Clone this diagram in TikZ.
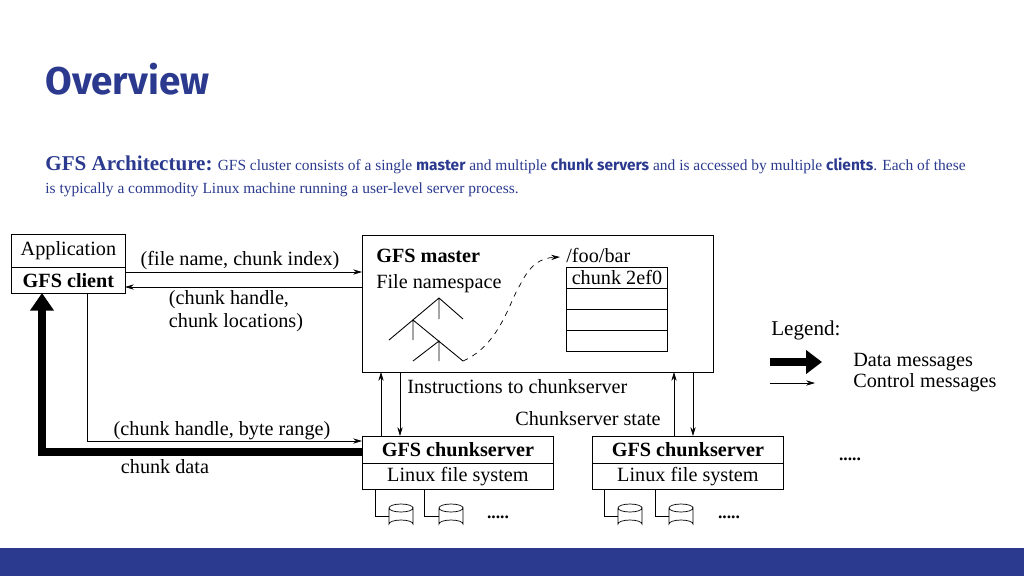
\documentclass[tikz,border=0pt]{standalone}
\usepackage{fontspec}
\setmainfont{Liberation Serif}
\newfontfamily\hdfont{Fira Sans}
\usetikzlibrary{arrows.meta}
\definecolor{navy}{HTML}{2B3A8E}
\begin{document}
\begin{tikzpicture}[x=0.02cm,y=-0.02cm,
  box/.style={draw,line width=0.5pt},
  lbl/.style={font=\fontsize{11.5}{13}\selectfont,inner sep=0pt},
  blbl/.style={font=\fontsize{11.5}{13}\selectfont\bfseries,inner sep=0pt},
  ctl/.style={-{Stealth[length=5pt,width=3pt]},line width=0.4pt},
  data/.style={-{Triangle[length=9pt,width=13pt]},line width=5pt},
  disk/.pic={\draw[line width=0.4pt,fill=white] (-12,-8) -- (-12,8) arc[start angle=180,end angle=360,x radius=12,y radius=4] -- (12,-8) arc[start angle=0,end angle=-180,x radius=12,y radius=-4] arc[start angle=180,end angle=0,x radius=12,y radius=-4];}]
\useasboundingbox (0,0) rectangle (1024,576);
\fill[navy] (0,548) rectangle (1024,576);
\node[anchor=base west,inner sep=0pt,text=navy,font=\hdfont\bfseries\fontsize{22}{26}\selectfont] (title) at (45,94) {Overview};
\node[anchor=base west,inner sep=0pt,text=navy,font=\fontsize{8.8}{10}\selectfont] (sub1) at (45,170) {{\fontsize{12}{13}\selectfont\bfseries GFS Architecture:} GFS cluster consists of a single {\hdfont\bfseries master} and multiple {\hdfont\bfseries chunk servers} and is accessed by multiple {\hdfont\bfseries clients}. Each of these};
\node[anchor=base west,inner sep=0pt,text=navy,font=\fontsize{8.8}{10}\selectfont] (sub2) at (45,193) {is typically a commodity Linux machine running a user-level server process.};
% client
\node[box,minimum width=2.28cm,minimum height=0.66cm,anchor=north west,lbl] (app) at (11,234) {Application};
\node[box,minimum width=2.28cm,minimum height=0.52cm,anchor=north west,blbl] (cli) at (11,267) {GFS client};
% master
\node[box,minimum width=7.02cm,minimum height=2.74cm,anchor=north west] (mas) at (362,235) {};
\node[blbl,anchor=base west] (mt) at (376,262) {GFS master};
\node[lbl,anchor=base west] (ns) at (376,288) {File namespace};
\node[lbl,anchor=base west] (foo) at (566,262) {/foo/bar};
\node[box,minimum width=2.02cm,minimum height=0.42cm,anchor=north west] (t1) at (566,267) {};
\node[lbl] (t1l) at (t1) {chunk 2ef0};
\node[box,minimum width=2.02cm,minimum height=0.42cm,anchor=north west] (t2) at (566,288) {};
\node[box,minimum width=2.02cm,minimum height=0.42cm,anchor=north west] (t3) at (566,309) {};
\node[box,minimum width=2.02cm,minimum height=0.42cm,anchor=north west] (t4) at (566,330) {};
\draw[line width=0.5pt] (389,340) -- (439,298) -- (463,319) (439,298) -- (439,319)
  (413,320) -- (463,361) (413,320) -- (413,340)
  (413,361) -- (439,341) -- (439,361);
\coordinate (tr) at (463,361);
\coordinate (fe) at (560,257);
\draw[dashed,line width=0.4pt,-{Stealth[length=5pt,width=3pt]}] (tr) .. controls (500,345) and (510,300) .. (520,285) .. controls (530,265) and (540,258) .. (fe);
% chunkservers
\node[box,minimum width=3.82cm,minimum height=0.54cm,anchor=north west,blbl] (cs1) at (362,436) {GFS chunkserver};
\node[box,minimum width=3.82cm,minimum height=0.52cm,anchor=north west,lbl] (fs1) at (362,463) {Linux file system};
\node[box,minimum width=3.82cm,minimum height=0.54cm,anchor=north west,blbl] (cs2) at (592,436) {GFS chunkserver};
\node[box,minimum width=3.82cm,minimum height=0.52cm,anchor=north west,lbl] (fs2) at (592,463) {Linux file system};
% disks
\coordinate (d1) at (401,516);
\coordinate (d2) at (451,516);
\coordinate (d3) at (630,516);
\coordinate (d4) at (681,516);
\draw[line width=0.4pt] (375,489) |- (d1) (424,489) |- (d2) (604,489) |- (d3) (655,489) |- (d4);
\pic at (d1) {disk}; \pic at (d2) {disk}; \pic at (d3) {disk}; \pic at (d4) {disk};
\node[lbl,font=\bfseries] (dots1) at (498,517) {.....};
\node[lbl,font=\bfseries] (dots2) at (729,517) {.....};
\node[lbl,font=\bfseries] (dots3) at (850,459) {.....};
% control arrows
\draw[ctl] (125,272) -- (362,272);
\node[lbl] (l1) at (240,261) {(file name, chunk index)};
\draw[ctl] (362,287) -- (125,287);
\node[lbl,align=left] (l2) at (236,311) {(chunk handle,\\ chunk locations)};
\draw[ctl] (381,436) -- (381,372);
\draw[ctl] (400,372) -- (400,436);
\node[lbl,anchor=base west] (l3) at (407,393) {Instructions to chunkserver};
\draw[ctl] (674,436) -- (674,372);
\draw[ctl] (693,372) -- (693,436);
\node[lbl,anchor=base east] (l4) at (661,425) {Chunkserver state};
\draw[ctl] (87,293) |- (362,441);
\node[lbl] (l5) at (222,431) {(chunk handle, byte range)};
\draw[data,-{Triangle[length=10pt,width=13pt]}] (362,452) -| (42,293);
\node[lbl] (l6) at (165,467) {chunk data};
% legend
\node[lbl,anchor=base west,font=\fontsize{12}{13}\selectfont] (leg) at (771,335) {Legend:};
\coordinate (la) at (770,362);
\coordinate (lb) at (822,362);
\draw[data] (la) -- (lb);
\coordinate (lc) at (770,383);
\coordinate (ld) at (815,383);
\draw[ctl] (lc) -- (ld);
\node[lbl,anchor=west] (dm) at (853,362) {Data messages};
\node[lbl,anchor=west] (cm) at (853,383) {Control messages};
\end{tikzpicture}
\end{document}
